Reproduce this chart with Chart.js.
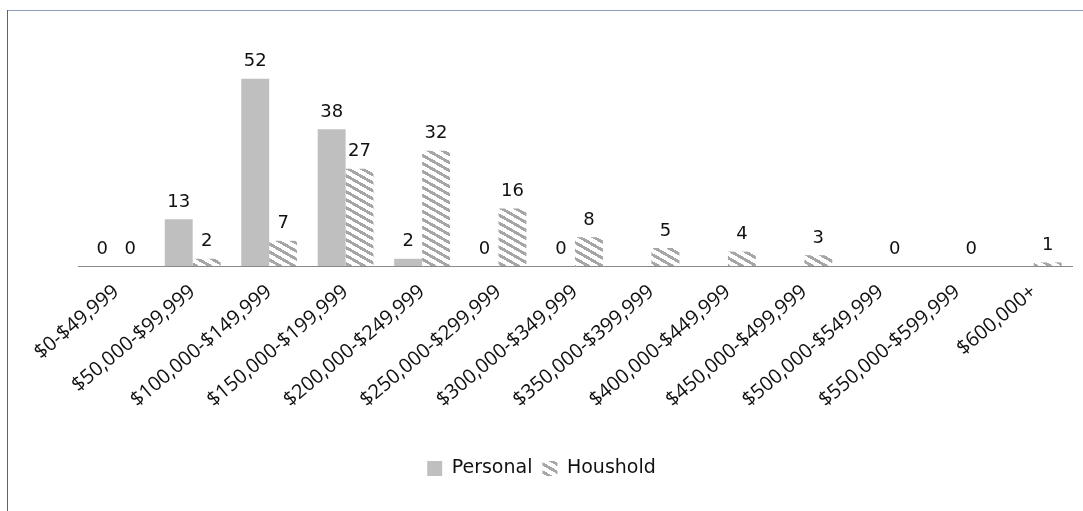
<!DOCTYPE html>
<html>
<head>
<meta charset="utf-8">
<script src="https://cdn.jsdelivr.net/npm/chart.js@4/dist/chart.umd.min.js"></script>
<style>
  html, body { margin: 0; padding: 0; background: #fff; }
  canvas { display: block; }
</style>
</head>
<body>
<canvas id="income" width="1083" height="511"></canvas>
<script>
const incomeRanges = [
  '$0-$49,999', '$50,000-$99,999', '$100,000-$149,999', '$150,000-$199,999',
  '$200,000-$249,999', '$250,000-$299,999', '$300,000-$349,999', '$350,000-$399,999',
  '$400,000-$449,999', '$450,000-$499,999', '$500,000-$549,999', '$550,000-$599,999',
  '$600,000+'
];
const personal = [0, 13, 52, 38, 2, 0, 0, null, null, null, null, null, null];
const household = [0, 2, 7, 27, 32, 16, 8, 5, 4, 3, 0, 0, 1];

const canvas = document.getElementById('income');
const ctx = canvas.getContext('2d');

// diagonal stripe fill for the household bars
function stripes() {
  const w = 14, h = 8;
  const tile = document.createElement('canvas');
  tile.width = w; tile.height = h;
  const g = tile.getContext('2d');
  g.fillStyle = '#ffffff';
  g.fillRect(0, 0, w, h);
  g.fillStyle = '#a6a6a6';
  for (let y = 0; y < h; y++) {
    for (let x = 0; x < w; x++) {
      const d = ((y - x * h / w) % h + h) % h;
      if (d < 3.4) g.fillRect(x, y, 1, 1);
    }
  }
  return ctx.createPattern(tile, 'repeat');
}
const hatch = stripes();

// white page with the frame lines on top and left
const frame = {
  id: 'frame',
  beforeDraw(chart) {
    const c = chart.ctx;
    c.save();
    c.fillStyle = '#fff';
    c.fillRect(0, 0, chart.width, chart.height);
    c.fillStyle = '#8d9cbc';
    c.fillRect(7, 10, chart.width - 7, 1);
    c.fillStyle = '#52619e';
    c.fillRect(7, 10, 1, chart.height - 10);
    c.restore();
  }
};

// numbers above each bar
const valueLabels = {
  id: 'valueLabels',
  afterDatasetsDraw(chart) {
    const c = chart.ctx;
    c.save();
    c.font = '18px "DejaVu Sans"';
    c.fillStyle = '#111';
    c.textAlign = 'center';
    c.textBaseline = 'middle';
    chart.data.datasets.forEach((ds, i) => {
      chart.getDatasetMeta(i).data.forEach((bar, j) => {
        const v = ds.data[j];
        if (v === null) return;
        c.fillText(String(v), bar.x, bar.y - 17);
      });
    });
    c.restore();
  }
};

new Chart(ctx, {
  type: 'bar',
  data: {
    labels: incomeRanges,
    datasets: [
      { label: 'Personal', data: personal, backgroundColor: '#bfbfbf' },
      { label: 'Houshold', data: household, backgroundColor: hatch }
    ]
  },
  plugins: [frame, valueLabels],
  options: {
    responsive: false,
    animation: false,
    events: [],
    datasets: { bar: { categoryPercentage: 0.73, barPercentage: 1.0 } },
    layout: { padding: { left: 11, right: 11, top: 50, bottom: 23 } },
    plugins: {
      tooltip: { enabled: false },
      legend: {
        position: 'bottom',
        labels: {
          boxWidth: 15,
          boxHeight: 15,
          padding: 10,
          color: '#111',
          font: { family: '"DejaVu Sans"', size: 19 }
        }
      }
    },
    scales: {
      x: {
        grid: { display: false },
        border: { display: true, color: '#898989', width: 1 },
        ticks: {
          color: '#111',
          minRotation: 40,
          maxRotation: 40,
          autoSkip: false,
          padding: 6,
          font: { family: '"Open Sans"', size: 20 }
        },
        afterFit(scale) { scale.height = 183; }
      },
      // invisible axis that only reserves the left margin
      y: {
        display: true,
        min: 0,
        max: 60,
        grid: { display: false },
        border: { display: false },
        ticks: { display: false },
        afterFit(scale) { scale.width = 67; }
      }
    }
  }
});
</script>
</body>
</html>
